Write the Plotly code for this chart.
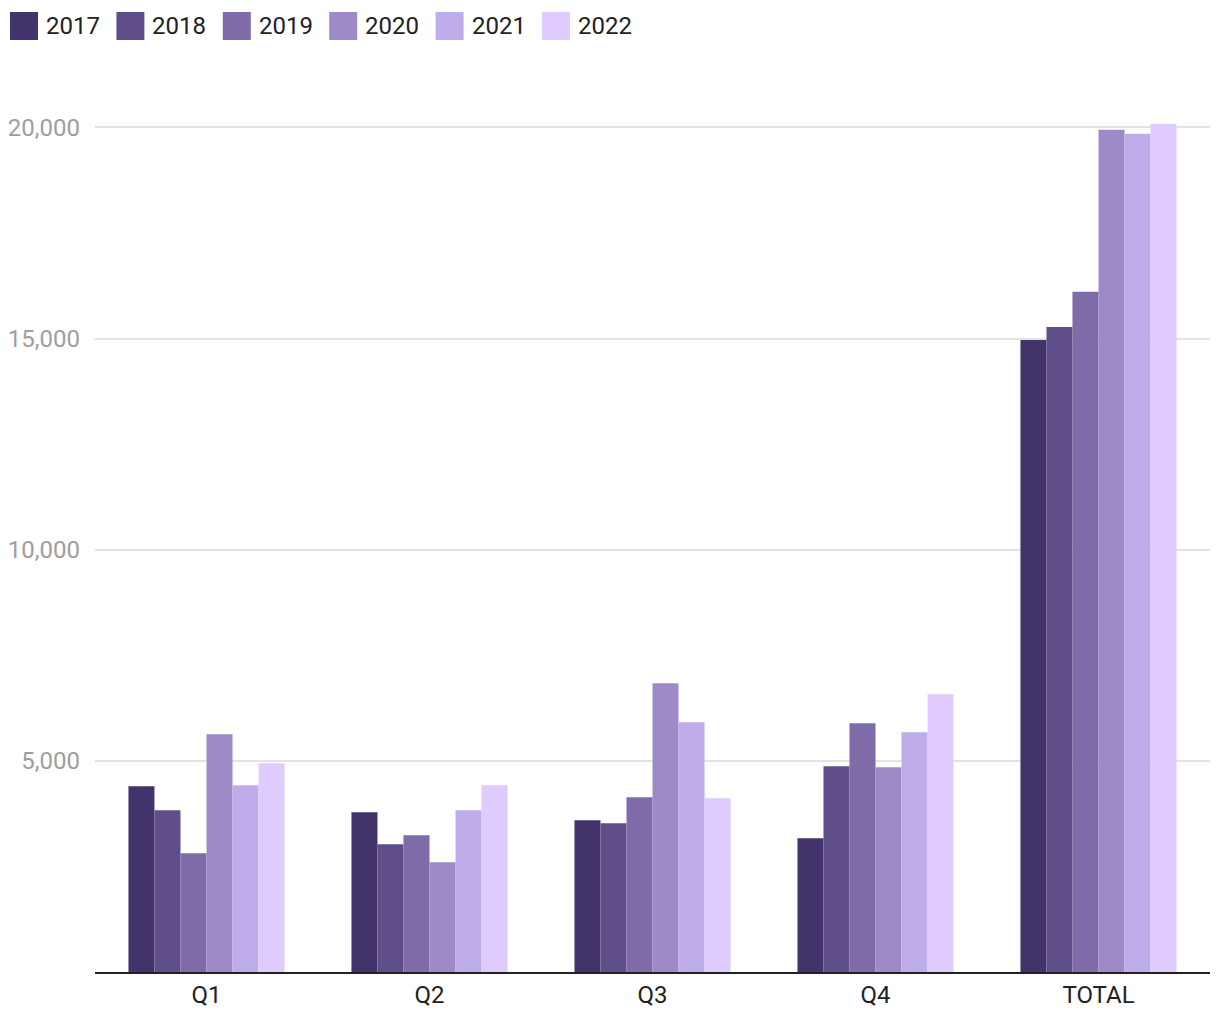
import plotly.graph_objects as go

categories = ["Q1", "Q2", "Q3", "Q4", "TOTAL"]
years = ["2017", "2018", "2019", "2020", "2021", "2022"]
colors = ["#42346b", "#604e8b", "#7e6ba8", "#9e8ac9", "#bfacea", "#e0cbff"]

v2017 = [4400, 3784, 3595, 3168, 14969]
v2018 = [3832, 3026, 3524, 4874, 15277]
v2019 = [2813, 3239, 4140, 5893, 16107]
v2020 = [5633, 2600, 6840, 4850, 19945]
v2021 = [4424, 3832, 5917, 5680, 19851]
v2022 = [4945, 4424, 4116, 6580, 20088]
series = [v2017, v2018, v2019, v2020, v2021, v2022]

y_ticks = [5000, 10000, 15000, 20000]
y_labels = ["5,000", "10,000", "15,000", "20,000"]

# page body adds an 8px margin, so the figure is sized to fit inside the window
W, H = 1212, 1012
ML, MR, MT, MB = 87, 10, 92, 48
pw, ph = W - ML - MR, H - MT - MB


def px_x(x):
    return (x - ML) / pw


def px_y(y):
    return (H - MB - y) / ph


fig = go.Figure()
for year, vals, col in zip(years, series, colors):
    fig.add_trace(go.Bar(x=categories, y=vals, name=year, marker_color=col,
                         marker_line_width=0))

# custom legend: big square swatches + labels along the top
for i, (year, col) in enumerate(zip(years, colors)):
    x0 = 2 + 106.4 * i
    fig.add_shape(type="rect", xref="paper", yref="paper",
                  x0=px_x(x0), x1=px_x(x0 + 28), y0=px_y(32), y1=px_y(4),
                  fillcolor=col, line_width=0)
    fig.add_annotation(xref="paper", yref="paper", x=px_x(x0 + 34), y=px_y(18),
                       text=year, showarrow=False, xanchor="left", yanchor="middle",
                       font=dict(size=24, color="#222222"))

fig.update_layout(
    width=W, height=H,
    font=dict(family="Roboto", size=24, color="#222222"),
    plot_bgcolor="white", paper_bgcolor="white",
    barmode="group", bargap=0.3, bargroupgap=0,
    margin=dict(l=ML, r=MR, t=MT, b=MB, autoexpand=False),
    showlegend=False,
)
fig.update_xaxes(showline=True, linecolor="#222222", linewidth=2,
                 ticks="", ticklabelstandoff=0,
                 tickfont=dict(size=24, color="#222222"))
fig.update_yaxes(range=[0, 20650], tickvals=y_ticks, ticktext=y_labels,
                 showgrid=True, gridcolor="#e3e3e3", gridwidth=2,
                 zeroline=False, ticklabelstandoff=14,
                 tickfont=dict(size=24, color="#9e9e9e"))

fig.write_html("out.html")
